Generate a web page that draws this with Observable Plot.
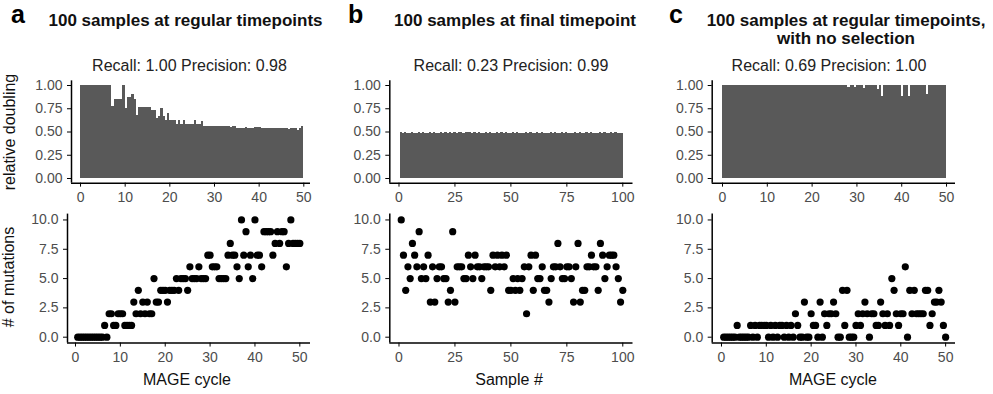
<!DOCTYPE html>
<html><head><meta charset="utf-8">
<script src="https://cdn.jsdelivr.net/npm/d3@7"></script>
<script src="https://cdn.jsdelivr.net/npm/@observablehq/plot@0.6"></script>
<style>
body{margin:0;background:#fff;}
#root{position:relative;width:993px;height:394px;overflow:hidden;font-family:"Liberation Sans",Arial,Helvetica,sans-serif;background:#fff;}
.t{position:absolute;white-space:nowrap;color:#111;line-height:1;}
.c{transform:translateX(-50%);}
.letter{font-size:25px;font-weight:bold;color:#000;}
.title{font-size:17px;font-weight:bold;}
.sub{font-size:16px;color:#222;}
.axt{font-size:16px;color:#111;}
.yt{transform:translate(-50%,-50%) rotate(-90deg);}
.p{position:absolute;}
</style></head><body><div id="root"></div><script>
// ---------- data ----------
const cycleTimes = [0.5,1,1.5,2,2.5,3,3.5,4,4.5,5,5.5,6,6.5,7,7.5,8,8.5,9,9.5,10,
 10.5,11,11.5,12,12.5,13,13.5,14,14.5,15,15.5,16,16.5,17,17.5,18,18.5,19,19.5,20,
 20.5,21,21.5,22,22.5,23,23.5,24,24.5,25,25.5,26,26.5,27,27.5,28,28.5,29,29.5,30,
 30.5,31,31.5,32,32.5,33,33.5,34,34.5,35,35.5,36,36.5,37,37.5,38,38.5,39,39.5,40,
 40.5,41,41.5,42,42.5,43,43.5,44,44.5,45,45.5,46,46.5,47,47.5,48,48.5,49,49.5,50];
const sampleNums = [1,2,3,4,5,6,7,8,9,10,11,12,13,14,15,16,17,18,19,20,
 21,22,23,24,25,26,27,28,29,30,31,32,33,34,35,36,37,38,39,40,
 41,42,43,44,45,46,47,48,49,50,51,52,53,54,55,56,57,58,59,60,
 61,62,63,64,65,66,67,68,69,70,71,72,73,74,75,76,77,78,79,80,
 81,82,83,84,85,86,87,88,89,90,91,92,93,94,95,96,97,98,99,100];

// panel a: regular timepoints
const aDoubling = [1,1,1,1,1,1,1,1,1,1,1,1,1,1,0.775,0.85,0.85,0.85,0.85,1,
 0.75,0.875,0.875,0.9,0.85,0.68,0.76,0.76,0.76,0.76,0.76,0.76,0.73,0.73,0.64,0.67,0.75,0.67,0.62,0.70,
 0.62,0.62,0.62,0.58,0.62,0.58,0.62,0.58,0.58,0.58,0.58,0.62,0.58,0.58,0.61,0.555,0.555,0.56,0.56,0.555,
 0.56,0.56,0.56,0.56,0.56,0.555,0.56,0.545,0.56,0.555,0.535,0.54,0.535,0.535,0.545,0.54,0.535,0.54,0.545,0.545,
 0.545,0.535,0.54,0.535,0.535,0.54,0.535,0.535,0.54,0.535,0.535,0.54,0.535,0.53,0.535,0.54,0.535,0.52,0.535,0.56];
const aMutations = [0,0,0,0,0,0,0,0,0,0,0,0,1,0,2,2,1,1,2,2,
 2,1,1,1,1,3,2,4,2,3,2,3,2,2,5,3,3,4,4,4,
 3,4,4,4,5,4,5,5,5,4,6,5,5,5,6,5,5,5,7,7,
 6,6,6,5,5,5,5,7,8,7,7,6,5,10,7,9,6,7,5,10,
 7,7,6,9,9,9,9,7,8,9,8,9,9,6,8,10,8,8,8,8];

// panel b: final timepoint
const bDoubling = [0.49,0.485,0.49,0.48,0.485,0.49,0.485,0.48,0.49,0.485,0.49,0.48,0.485,0.49,0.485,0.49,0.48,0.485,0.49,0.485,
 0.49,0.485,0.49,0.485,0.49,0.48,0.49,0.49,0.485,0.49,0.495,0.49,0.485,0.49,0.485,0.49,0.48,0.485,0.49,0.485,
 0.49,0.485,0.48,0.49,0.485,0.49,0.485,0.49,0.485,0.48,0.49,0.485,0.49,0.485,0.48,0.485,0.49,0.485,0.49,0.48,
 0.485,0.49,0.485,0.49,0.485,0.48,0.485,0.49,0.485,0.49,0.485,0.48,0.49,0.485,0.49,0.485,0.48,0.485,0.49,0.485,
 0.49,0.485,0.48,0.49,0.485,0.49,0.485,0.48,0.485,0.49,0.485,0.49,0.48,0.485,0.49,0.485,0.49,0.485,0.48,0.485];
const bMutations = [10,7,4,6,5,8,7,6,9,5,
 6,5,7,3,6,3,5,6,6,5,
 5,3,4,9,3,6,6,6,5,5,
 7,6,5,7,6,6,5,6,6,6,
 4,7,6,7,6,7,6,7,4,4,
 5,4,5,4,5,6,2,6,7,4,
 7,5,5,6,4,4,3,5,6,6,
 8,6,5,5,6,6,5,3,6,8,
 3,4,4,6,6,7,6,6,4,8,
 7,5,6,7,7,7,6,5,3,4];

// panel c: regular timepoints, no selection
const cDoubling = [1,1,1,1,1,1,1,1,1,1,1,1,1,1,1,1,1,1,1,1,
 1,1,1,1,1,1,1,1,1,1,1,1,1,1,1,1,1,1,1,1,
 1,1,1,1,1,1,1,1,1,1,1,1,1,1,1,1,0.98,1,1,0.98,
 1,1,1,0.97,1,1,1,1,1,0.96,1,0.88,1,1,1,1,1,1,1,1,
 0.88,1,1,0.88,1,1,1,1,1,1,1,0.9,1,1,1,1,1,1,1,1];
const cMutations = [0,0,0,0,0,0,1,0,0,0, 0,0,1,0,1,0,1,1,1,1,
 0,1,0,1,0,1,1,0,1,0, 1,0,2,1,0,0,3,0,0,2,
 1,1,0,3,0,2,1,2,2,3, 2,0,0,4,1,4,0,0,0,1,
 2,1,2,3,2,0,2,2,1,1, 3,2,1,2,1,5,4,2,1,2,
 2,6,0,4,2,4,2,2,2,2, 4,4,1,2,3,3,4,3,1,0];

const doublingTicks = [0, 0.25, 0.5, 0.75, 1];
const mutationTicks = [0, 2.5, 5, 7.5, 10];
const cycleTicks = [0, 10, 20, 30, 40, 50];
const sampleTicks = [0, 25, 50, 75, 100];

const panelLetters = ["a", "b", "c"];
const panelTitles = [["100 samples at regular timepoints"], ["100 samples at final timepoint"], ["100 samples at regular timepoints,", "with no selection"]];
const panelSubtitles = ["Recall: 1.00 Precision: 0.98", "Recall: 0.23 Precision: 0.99", "Recall: 0.69 Precision: 1.00"];
const xTitles = ["MAGE cycle", "Sample #", "MAGE cycle"];
const yTitles = ["relative doubling", "# of mutations"];

// ---------- build ----------
const root = document.getElementById("root");
const zip = (xs, ys) => xs.map((x, i) => ({x, y: ys[i]}));

function addText(cls, text, left, top) {
  const d = document.createElement("div");
  d.className = "t " + cls;
  d.textContent = text;
  d.style.left = left + "px";
  d.style.top = top + "px";
  root.appendChild(d);
}

function place(svg, left, top) {
  svg.classList.add("p");
  svg.style.left = left + "px";
  svg.style.top = top + "px";
  root.appendChild(svg);
}

const baseStyle = {fontFamily: '"Liberation Sans",Arial,sans-serif', fontSize: "14px", color: "#4d4d4d", background: "transparent", overflow: "visible"};

function barPanel({data, halfBefore, halfAfter, left, width, mL, mR, xDomain, xTicks}) {
  return Plot.plot({
    width, height: 145, marginLeft: mL, marginRight: mR, marginTop: 20.35, marginBottom: 22.35,
    style: baseStyle,
    x: {domain: xDomain, label: null},
    y: {domain: [-0.05, 1.05], label: null},
    marks: [
      Plot.rectY(data, {x1: d => d.x - halfBefore, x2: d => d.x + halfAfter, y1: 0, y2: "y", fill: "#595959", shapeRendering: "crispEdges"}),
      Plot.ruleX([xDomain[0]], {stroke: "#000", strokeWidth: 1.5}),
      Plot.ruleY([-0.05], {stroke: "#000", strokeWidth: 1.5}),
      Plot.axisX(xTicks, {tickSize: 4, tickPadding: 5, stroke: "#000", fill: "#4d4d4d", label: null}),
      Plot.axisY(doublingTicks, {tickSize: 4, tickPadding: 5, stroke: "#000", fill: "#4d4d4d", tickFormat: d3.format(".2f"), label: null})
    ]
  });
}

function dotPanel({data, width, mL, mR, xDomain, xTicks}) {
  return Plot.plot({
    width, height: 170, marginLeft: mL, marginRight: mR, marginTop: 8.6, marginBottom: 32.44,
    style: baseStyle,
    x: {domain: xDomain, label: null},
    y: {domain: [-0.5, 10.5], label: null},
    marks: [
      Plot.dot(data, {x: "x", y: "y", r: 3.6, fill: "#000", stroke: null}),
      Plot.ruleX([xDomain[0]], {stroke: "#000", strokeWidth: 1.5}),
      Plot.ruleY([-0.5], {stroke: "#000", strokeWidth: 1.5}),
      Plot.axisX(xTicks, {tickSize: 4, tickPadding: 5, stroke: "#000", fill: "#4d4d4d", label: null}),
      Plot.axisY(mutationTicks, {tickSize: 4, tickPadding: 5, stroke: "#000", fill: "#4d4d4d", tickFormat: d3.format(".1f"), label: null})
    ]
  });
}

// column a
place(barPanel({data: zip(cycleTimes, aDoubling), halfBefore: 0.5, halfAfter: 0, width: 330, mL: 71, mR: 20, xDomain: [-2.02, 51.5], xTicks: cycleTicks}), 0, 60);
place(dotPanel({data: zip(cycleTimes, aMutations), width: 330, mL: 67, mR: 20, xDomain: [-1.78, 52.38], xTicks: cycleTicks}), 0, 205);
// column b
place(barPanel({data: zip(sampleNums, bDoubling), halfBefore: 0.5, halfAfter: 0.5, width: 330, mL: 59.3, mR: 27.5, xDomain: [-4.11, 104.56], xTicks: sampleTicks}), 330, 60);
place(dotPanel({data: zip(sampleNums, bMutations), width: 330, mL: 59.3, mR: 27.5, xDomain: [-4.11, 104.56], xTicks: sampleTicks}), 330, 205);
// column c
place(barPanel({data: zip(cycleTimes, cDoubling), halfBefore: 0.5, halfAfter: 0, width: 333, mL: 51.7, mR: 38, xDomain: [-2.3, 52.0], xTicks: cycleTicks}), 660, 60);
place(dotPanel({data: zip(cycleTimes, cMutations), width: 333, mL: 51.7, mR: 38, xDomain: [-2.07, 52.2], xTicks: cycleTicks}), 660, 205);

// titles
const letterLeft = [11, 348, 669];
panelLetters.forEach((l, i) => addText("letter", l, letterLeft[i], 1.8));
const titleCenter = [185.5, 515, 846];
panelTitles.forEach((lines, i) => lines.forEach((s, j) => addText("title c", s, titleCenter[i], 12.1 + j * 17.8)));
const subCenter = [189.5, 511, 829];
panelSubtitles.forEach((s, i) => addText("sub c", s, subCenter[i], 57.5));
const xTitleCenter = [187, 509, 833];
xTitles.forEach((s, i) => addText("axt c", s, xTitleCenter[i], 371.5));
// y titles (rotated, centred on given point)
addText("axt yt", yTitles[0], 10, 132);
addText("axt yt", yTitles[1], 9, 277);
</script></body></html>
